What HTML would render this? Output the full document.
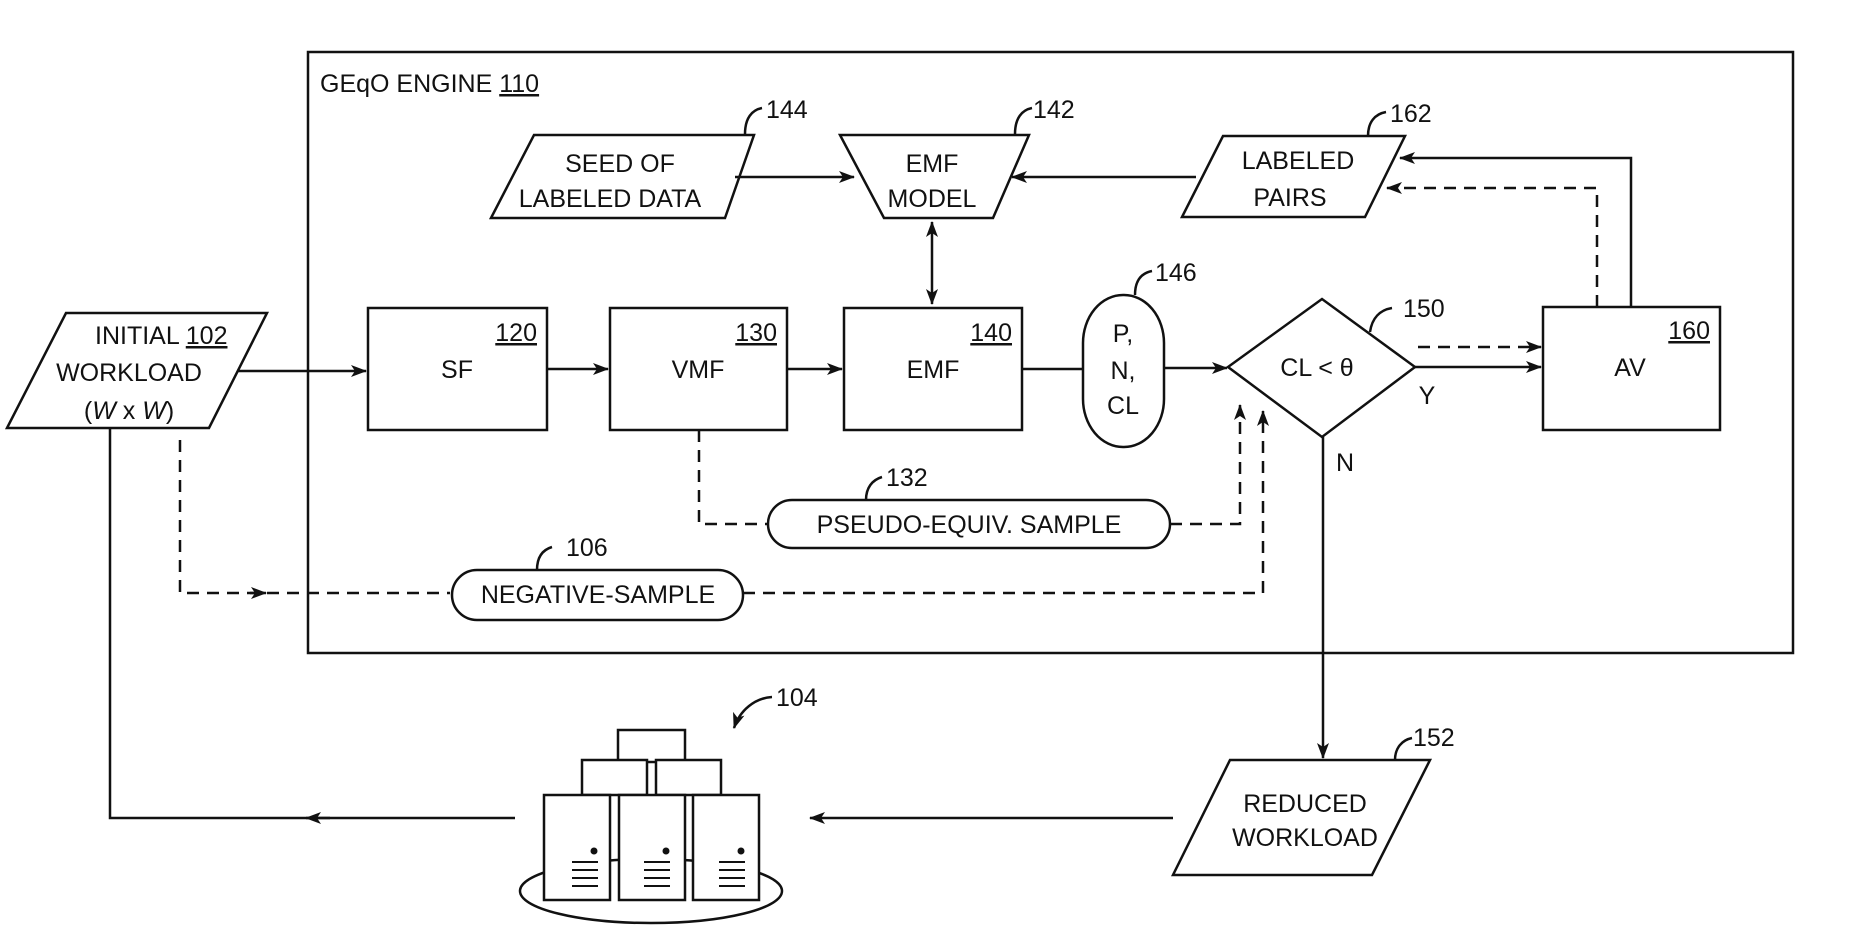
<!DOCTYPE html>
<html><head><meta charset="utf-8"><style>
html,body{margin:0;padding:0;background:#fff;}
svg{display:block;}
text{font-family:"Liberation Sans",Arial,sans-serif;font-size:25px;fill:#111;}
</style></head><body>
<svg width="1876" height="932" viewBox="0 0 1876 932" xmlns="http://www.w3.org/2000/svg">
<defs>
<marker id="a" viewBox="0 0 16 12" refX="15" refY="6" markerWidth="16" markerHeight="12" markerUnits="userSpaceOnUse" orient="auto">
<path d="M0,0 L16,6 L0,12 L4,6 Z" fill="#111"/></marker>
<marker id="b" viewBox="0 0 16 12" refX="1" refY="6" markerWidth="16" markerHeight="12" markerUnits="userSpaceOnUse" orient="auto">
<path d="M16,0 L0,6 L16,12 L12,6 Z" fill="#111"/></marker>
</defs>
<g stroke="#111" stroke-width="2.5" fill="none">
<rect x="308" y="52" width="1485" height="601"/>
<polygon points="66,313 267,313 209,428 7,428" fill="#fff"/>
<line x1="237" y1="371" x2="366" y2="371" marker-end="url(#a)"/>
<rect x="368" y="308" width="179" height="122"/>
<rect x="610" y="308" width="177" height="122"/>
<rect x="844" y="308" width="178" height="122"/>
<line x1="547" y1="369" x2="608" y2="369" marker-end="url(#a)"/>
<line x1="787" y1="369" x2="842" y2="369" marker-end="url(#a)"/>
<line x1="1022" y1="369" x2="1083" y2="369"/>
<rect x="1083" y="295" width="81" height="152" rx="40" ry="48"/>
<line x1="1164" y1="368" x2="1227" y2="368" marker-end="url(#a)"/>
<polygon points="1228,367 1322,299 1415,367 1322,437"/>
<line x1="1418" y1="347" x2="1541" y2="347" stroke-dasharray="12,8" marker-end="url(#a)"/>
<line x1="1415" y1="367" x2="1541" y2="367" marker-end="url(#a)"/>
<rect x="1543" y="307" width="177" height="123"/>
<polyline points="1631,307 1631,158 1400,158" marker-end="url(#a)"/>
<polyline points="1597,307 1597,188 1387,188" stroke-dasharray="12,8" marker-end="url(#a)"/>
<polygon points="1223,136 1405,136 1365,217 1182,217"/>
<line x1="1196" y1="177" x2="1012" y2="177" marker-end="url(#a)"/>
<polygon points="534,135 754,135 725,218 491,218"/>
<line x1="735" y1="177" x2="854" y2="177" marker-end="url(#a)"/>
<polygon points="840,135 1029,135 993,218 884,218"/>
<line x1="932" y1="222" x2="932" y2="304" marker-start="url(#b)" marker-end="url(#a)"/>
<polyline points="699,430 699,524 768,524" stroke-dasharray="12,8"/>
<rect x="768" y="500" width="402" height="48" rx="24"/>
<polyline points="1170,524 1240,524 1240,405" stroke-dasharray="12,8" marker-end="url(#a)"/>
<polyline points="180,440 180,593 450,593" stroke-dasharray="12,8"/>
<line x1="250" y1="593" x2="266" y2="593" marker-end="url(#a)"/>
<rect x="452" y="570" width="291" height="50" rx="25"/>
<polyline points="743,593 1263,593 1263,411" stroke-dasharray="12,8" marker-end="url(#a)"/>
<line x1="1323" y1="437" x2="1323" y2="758" marker-end="url(#a)"/>
<polygon points="1230,760 1430,760 1372,875 1173,875"/>
<line x1="1173" y1="818" x2="810" y2="818" marker-end="url(#a)"/>
<polyline points="110,428 110,818 515,818"/>
<line x1="330" y1="818" x2="306" y2="818" marker-end="url(#a)"/>
<ellipse cx="651" cy="891" rx="131" ry="32" fill="#fff"/>
<rect x="618" y="730" width="67" height="32" fill="#fff"/>
<rect x="582" y="760" width="65" height="35" fill="#fff"/>
<rect x="656" y="760" width="65" height="35" fill="#fff"/>
<rect x="544" y="795" width="66" height="105" fill="#fff"/>
<rect x="619" y="795" width="66" height="105" fill="#fff"/>
<rect x="693" y="795" width="66" height="105" fill="#fff"/>
<g stroke-width="2">
<path d="M572,862h26M572,870h26M572,878h26M572,886h26"/>
<path d="M644,862h26M644,870h26M644,878h26M644,886h26"/>
<path d="M719,862h26M719,870h26M719,878h26M719,886h26"/>
</g>
<path d="M745,134 C745,118 752,110 762,108"/>
<path d="M1015,134 C1015,118 1022,110 1032,108"/>
<path d="M1368,136 C1368,122 1375,114 1386,112"/>
<path d="M1135,295 C1135,280 1142,273 1152,271"/>
<path d="M1370,332 C1372,318 1380,310 1392,308"/>
<path d="M866,500 C866,488 872,480 882,477"/>
<path d="M537,570 C537,558 542,550 552,547"/>
<path d="M1395,760 C1395,748 1402,740 1412,738"/>
<path d="M772,697 C755,698 740,710 734,728" marker-end="url(#a)"/>
</g>
<g fill="#111">
<circle cx="594" cy="851" r="3.5"/><circle cx="666" cy="851" r="3.5"/><circle cx="741" cy="851" r="3.5"/>
</g>
<text x="320" y="92">GEqO ENGINE <tspan text-decoration="underline">110</tspan></text>
<text x="95" y="344">INITIAL <tspan text-decoration="underline">102</tspan></text>
<text x="129" y="381" text-anchor="middle">WORKLOAD</text>
<text x="129" y="419" text-anchor="middle">(<tspan font-style="italic">W</tspan> x <tspan font-style="italic">W</tspan>)</text>
<text x="537" y="341" text-anchor="end" text-decoration="underline">120</text>
<text x="457" y="378" text-anchor="middle">SF</text>
<text x="777" y="341" text-anchor="end" text-decoration="underline">130</text>
<text x="698" y="378" text-anchor="middle">VMF</text>
<text x="1012" y="341" text-anchor="end" text-decoration="underline">140</text>
<text x="933" y="378" text-anchor="middle">EMF</text>
<text x="1123" y="342" text-anchor="middle">P,</text>
<text x="1123" y="379" text-anchor="middle">N,</text>
<text x="1123" y="414" text-anchor="middle">CL</text>
<text x="1155" y="281">146</text>
<text x="1317" y="376" text-anchor="middle">CL &lt; θ</text>
<text x="1403" y="317">150</text>
<text x="1427" y="404" text-anchor="middle">Y</text>
<text x="1345" y="471" text-anchor="middle">N</text>
<text x="1710" y="339" text-anchor="end" text-decoration="underline">160</text>
<text x="1630" y="376" text-anchor="middle">AV</text>
<text x="1298" y="169" text-anchor="middle">LABELED</text>
<text x="1290" y="206" text-anchor="middle">PAIRS</text>
<text x="1390" y="122">162</text>
<text x="620" y="172" text-anchor="middle">SEED OF</text>
<text x="610" y="207" text-anchor="middle">LABELED DATA</text>
<text x="766" y="118">144</text>
<text x="932" y="172" text-anchor="middle">EMF</text>
<text x="932" y="207" text-anchor="middle">MODEL</text>
<text x="1033" y="118">142</text>
<text x="969" y="533" text-anchor="middle">PSEUDO-EQUIV. SAMPLE</text>
<text x="886" y="486">132</text>
<text x="598" y="603" text-anchor="middle">NEGATIVE-SAMPLE</text>
<text x="566" y="556">106</text>
<text x="1305" y="812" text-anchor="middle">REDUCED</text>
<text x="1305" y="846" text-anchor="middle">WORKLOAD</text>
<text x="1413" y="746">152</text>
<text x="776" y="706">104</text>
</svg>
</body></html>
